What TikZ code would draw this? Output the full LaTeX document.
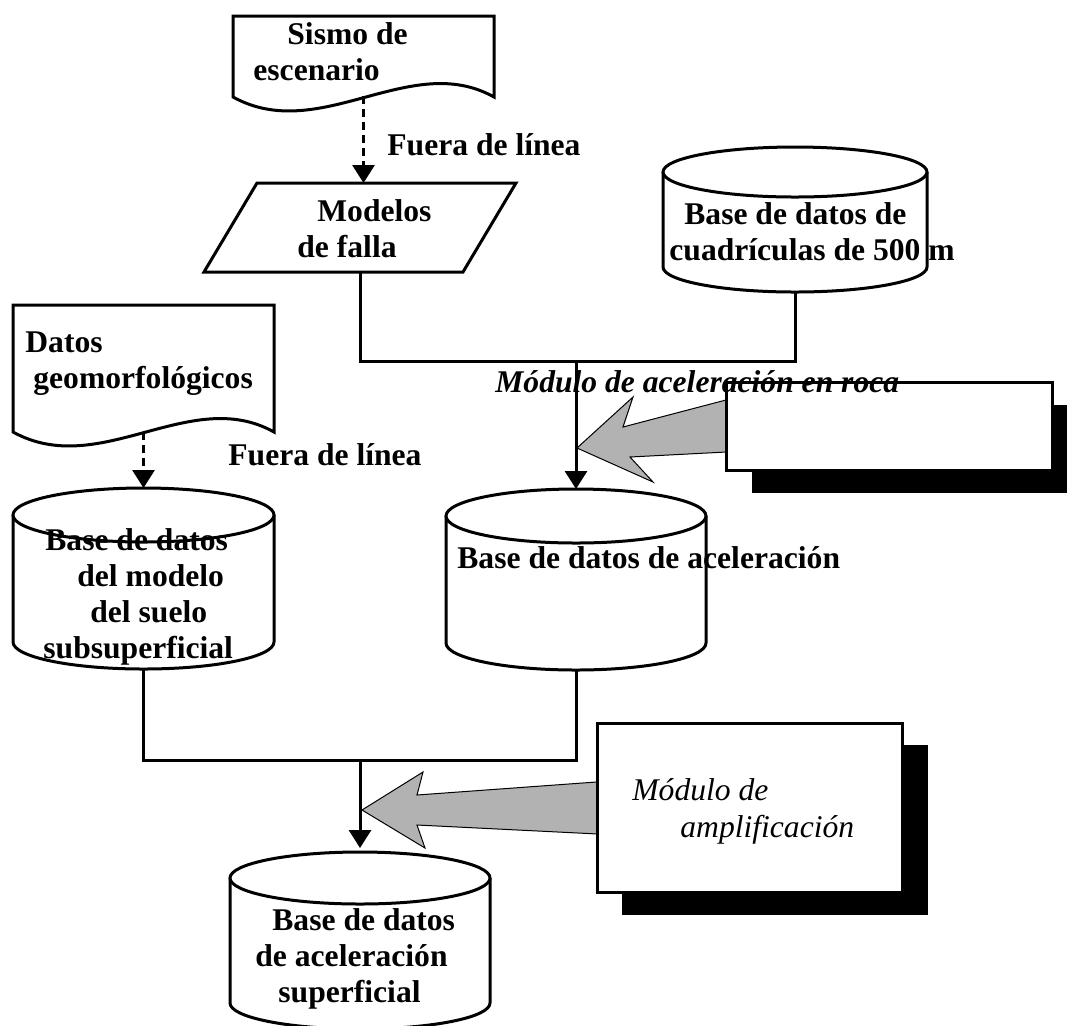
\documentclass[tikz,border=0pt]{standalone}
\usepackage{fontspec}
\setmainfont{Liberation Serif}
\usetikzlibrary{arrows.meta}
\definecolor{arrgray}{RGB}{178,178,178}
\tikzset{
  shp/.style={draw=black, line width=1.5pt, fill=white, line join=miter},
  conn/.style={draw=black, line width=1.5pt},
  arr/.style={-{Triangle[width=11pt,length=9pt]}},
  dsh/.style={dash pattern=on 4pt off 2.5pt},
  lbl/.style={inner sep=0pt, anchor=base west, align=left, font=\fontsize{15.8}{18}\selectfont\bfseries},
  blockarrow/.style={fill=arrgray, draw=black, line width=0.5pt, line join=miter},
  shadowbox/.style={fill=black, draw=none},
}
\newcommand\drawcyl[5]{%
  \draw[shp] ({#1-#4},#2) -- ({#1-#4},#3) arc[start angle=180,end angle=360,x radius=#4*0.5pt,y radius=#5*0.5pt] -- ({#1+#4},#2);
  \draw[shp] (#1,#2) ellipse [x radius=#4*0.5pt, y radius=#5*0.5pt];
}
\begin{document}
\begin{tikzpicture}[x=0.5pt,y=-0.5pt]
\path[use as bounding box, clip] (0,0) rectangle (1067,1025);

% documents
\draw[shp] (233,16) -- (494,16) -- (494,97) .. controls (410,50) and (320,145) .. (233,97) -- cycle;
\coordinate (sismo) at (363.5,96);
\draw[shp] (13,305) -- (274,305) -- (274,432) .. controls (190,385) and (100,480) .. (13,432) -- cycle;
\coordinate (geo) at (143.5,432);

% parallelogram
\draw[shp] (257,183) -- (516,183) -- (463,272) -- (204,272) -- cycle;
\coordinate (modT) at (363.5,183);
\coordinate (modB) at (360,272);

% cylinders
\drawcyl{795}{172}{267}{132}{25}
\coordinate (cuadB) at (795,292);
\drawcyl{576}{516}{643}{130}{27}
\coordinate (midT) at (576,489);
\coordinate (midB) at (576,670);
\drawcyl{143.5}{515}{642}{130.5}{27}
\coordinate (leftT) at (143.5,488);
\coordinate (leftB) at (143.5,669);
\drawcyl{360}{878}{1003}{130}{26}
\coordinate (botT) at (360,848);

% block arrows
\draw[blockarrow] (577,448) -- (633,397) -- (623,427) -- (740,396.3) -- (740,451.3) -- (630,457) -- (653,482) -- cycle;
\draw[blockarrow] (362,810) -- (423,772) -- (417,795) -- (610,781) -- (610,834.6) -- (417,825) -- (425,848) -- cycle;

% connectors
\coordinate (j1) at (576,361);
\draw[conn] (modB) |- (j1) -| (cuadB);
\draw[conn,arr] (j1) -- (midT);
\coordinate (j2) at (360,760);
\draw[conn] (midB) |- (j2) -| (leftB);
\draw[conn,arr] (j2) -- (botT);
\draw[conn,dsh,arr] (sismo) -- (modT);
\draw[conn,dsh,arr] (geo) -- (leftT);

% module boxes with shadows
\fill[shadowbox] (752,405) rectangle (1078,493);
\draw[shp] (726,382) rectangle (1052,470);
\coordinate (rockbox) at (726,426);
\fill[shadowbox] (622,745) rectangle (928,915);
\draw[shp] (597,723) rectangle (902,892);
\coordinate (ampbox) at (597,808);

% labels (base anchor = baseline of the last line)
\node[lbl] (tSismo) at (253,80) {\hspace*{17pt}Sismo de\\escenario};
\node[lbl] (tFuera1) at (387,155) {Fuera de línea};
\node[lbl] (tModelos) at (297,257) {\hspace*{10pt}Modelos\\de falla};
\node[lbl] (tCuad) at (669,260) {\hspace*{7.5pt}Base de datos de\\cuadrículas de 500 m};
\node[lbl] (tDatos) at (25,388) {Datos\\\hspace*{4pt}geomorfológicos};
\node[lbl] (tFuera2) at (228,465) {Fuera de línea};
\node[lbl] (tLeft) at (43,658) {\hspace*{1pt}Base de datos\\\hspace*{17pt}del modelo\\\hspace*{23.5pt}del suelo\\subsuperficial};
\node[lbl] (tMid) at (457,568) {Base de datos de aceleración};
\node[lbl, font=\fontsize{15.8}{18}\selectfont\bfseries\itshape] (tRoca) at (495,392) {Módulo de aceleración en roca};
\node[lbl, font=\fontsize{15.8}{18.5}\selectfont\itshape] (tAmp) at (632,837) {Módulo de\\\hspace*{24pt}amplificación};
\node[lbl] (tBot) at (255,1002) {\hspace*{8.5pt}Base de datos\\de aceleración\\\hspace*{11.5pt}superficial};
\end{tikzpicture}
\end{document}
